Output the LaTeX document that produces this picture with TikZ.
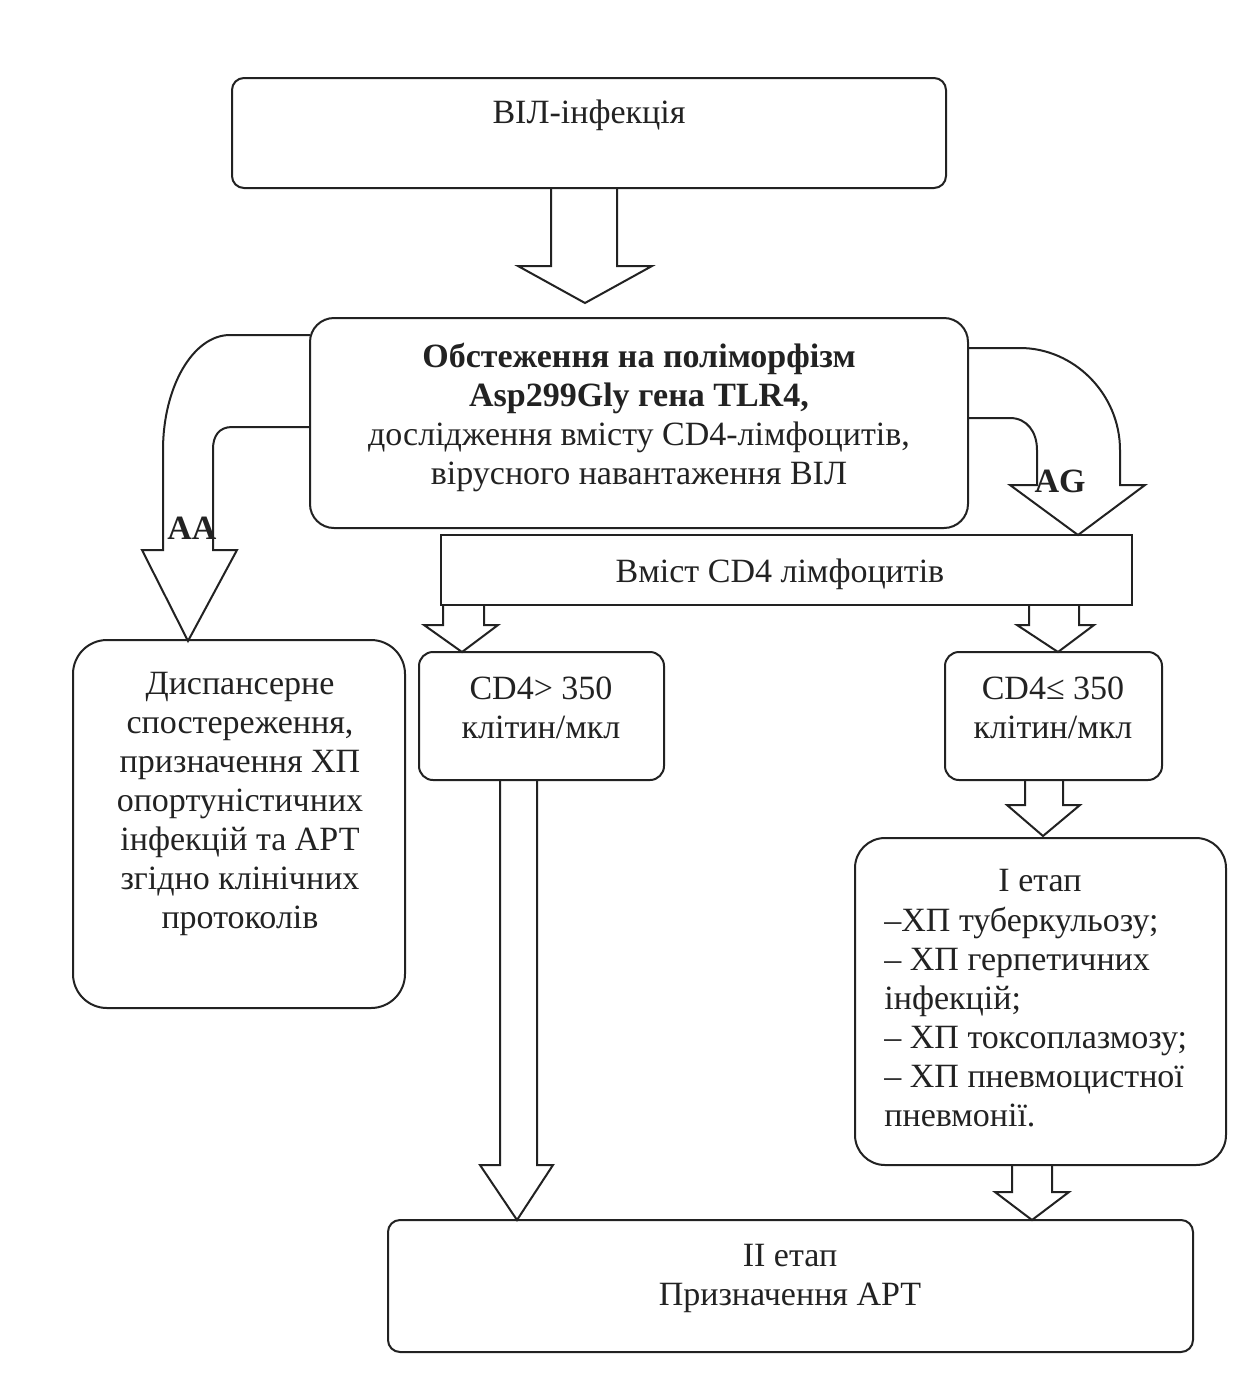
\documentclass[tikz,border=0pt]{standalone}
\usepackage{fontspec}
\setmainfont{Liberation Serif}
\definecolor{ink}{HTML}{222222}
\begin{document}
\begin{tikzpicture}[x=0.5pt,y=-0.5pt,
  every node/.style={font=\fontsize{17}{19.5}\selectfont, inner sep=0pt, text=ink},
  box/.style={draw=ink, line width=1pt},
  blk/.style={draw=ink, line width=1pt, line join=miter},
  lbl/.style={font=\fontsize{17}{19.5}\selectfont\bfseries}]
\path[use as bounding box, fill=white] (0,0) rectangle (1248,1378);

% boxes
\node[box, rounded corners=6pt, minimum width=357pt, minimum height=55pt] (b1) at (589,133) {};
\node[box, rounded corners=12pt, minimum width=329pt, minimum height=105pt] (b2) at (639,423) {};
\node[box, minimum width=345.5pt, minimum height=35pt] (b3) at (786.5,570) {};
\node[box, rounded corners=7pt, minimum width=122.5pt, minimum height=64pt] (b4) at (541.5,716) {};
\node[box, rounded corners=7pt, minimum width=108.5pt, minimum height=64pt] (b5) at (1053.5,716) {};
\node[box, rounded corners=15pt, minimum width=185.5pt, minimum height=163.5pt] (b6) at (1040.5,1001.5) {};
\node[box, rounded corners=6pt, minimum width=402.5pt, minimum height=66pt] (b7) at (790.5,1286) {};
\node[box, rounded corners=17pt, minimum width=166pt, minimum height=184pt] (b8) at (239,824) {};

% texts
\node (t1) at (589,115) {ВІЛ-інфекція};
\node[align=center] (t2) at (639,417) {\textbf{Обстеження на поліморфізм}\\\textbf{Asp299Gly гена TLR4,}\\дослідження вмісту CD4-лімфоцитів,\\вірусного навантаження ВІЛ};
\node (t3) at (780,574) {Вміст CD4 лімфоцитів};
\node[align=center] (t4) at (541,708) {CD4> 350\\клітин/мкл};
\node[align=center] (t5) at (1053,708) {CD4≤ 350\\клітин/мкл};
\node (t6h) at (1040,881) {I етап};
\node[align=left, anchor=west] (t6) at (884,1017) {–ХП туберкульозу;\\– ХП герпетичних\\інфекцій;\\– ХП токсоплазмозу;\\– ХП пневмоцистної\\пневмонії.};
\node[align=center] (t7) at (790,1278) {II етап\\Призначення АРТ};
\node[align=center] (t8) at (240,804) {Диспансерне\\спостереження,\\призначення ХП\\опортуністичних\\інфекцій та АРТ\\згідно клінічних\\протоколів};
\node[lbl] (aa) at (192,528) {AA};
\node[lbl] (ag) at (1060,481) {AG};

% block arrows
\draw[blk] (551,188) -- (551,266) -- (518,266) -- (585,303) -- (652,266) -- (617,266) -- (617,188);
\draw[blk] (310,335) -- (230,335) .. controls (193,335) and (163,387) .. (163,450) -- (163,550) -- (142,550) -- (188,641) -- (237,550) -- (213,550) -- (213,449) .. controls (213,436) and (219,427) .. (232,427) -- (310,427);
\draw[blk] (968,348) -- (1020,348) .. controls (1074,348) and (1120,394) .. (1120,450) -- (1120,485) -- (1145,485) -- (1078,535) -- (1010,485) -- (1037,485) -- (1037,450) .. controls (1037,432) and (1027,418) .. (1010,418) -- (968,418);
\draw[blk] (443,605) -- (443,625) -- (424,625) -- (462,652) -- (498,625) -- (484,625) -- (484,605);
\draw[blk] (1029,605) -- (1029,625) -- (1017,625) -- (1058,652) -- (1094,625) -- (1079,625) -- (1079,605);
\draw[blk] (500,780) -- (500,1165) -- (480,1165) -- (517,1220) -- (553,1165) -- (537,1165) -- (537,780);
\draw[blk] (1025,780) -- (1025,805) -- (1007,805) -- (1043,836) -- (1080,805) -- (1063,805) -- (1063,780);
\draw[blk] (1012,1165) -- (1012,1192) -- (995,1192) -- (1032,1220) -- (1069,1192) -- (1052,1192) -- (1052,1165);
\end{tikzpicture}
\end{document}
